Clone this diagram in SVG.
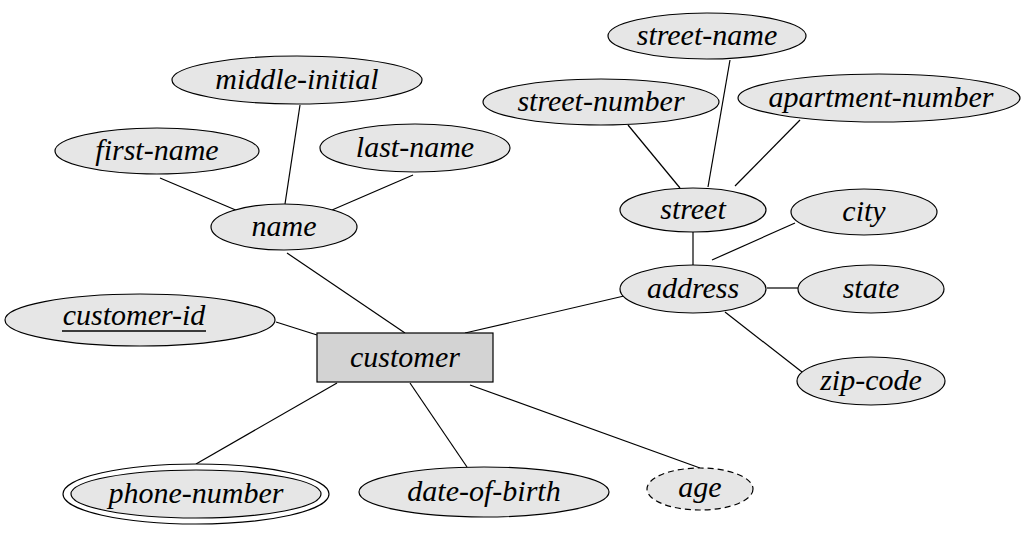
<svg xmlns="http://www.w3.org/2000/svg" width="1024" height="540" viewBox="0 0 1024 540">
<style>
.e{fill:#e6e6e6;stroke:#000;stroke-width:1.2}
.t{font-family:"Liberation Serif","DejaVu Serif",serif;font-style:italic;font-size:30px;text-anchor:middle;dominant-baseline:central;fill:#000}
.c line{stroke:#000;stroke-width:1.2}
</style>
<rect width="1024" height="540" fill="#fff"/>
<g class="c" id="connectors">
<line x1="160" y1="178" x2="238" y2="211"/>
<line x1="300" y1="105" x2="285" y2="204"/>
<line x1="413" y1="175" x2="332" y2="210"/>
<line x1="287" y1="253" x2="405" y2="333"/>
<line x1="276" y1="322" x2="317" y2="335"/>
<line x1="624" y1="296" x2="465" y2="333"/>
<line x1="337" y1="383" x2="196" y2="464"/>
<line x1="410" y1="383" x2="467" y2="467"/>
<line x1="470" y1="385" x2="700" y2="468"/>
<line x1="628" y1="125" x2="680" y2="188"/>
<line x1="730" y1="60" x2="708" y2="187"/>
<line x1="800" y1="120" x2="735" y2="186"/>
<line x1="693" y1="232" x2="693" y2="265"/>
<line x1="795" y1="223" x2="712" y2="260"/>
<line x1="767" y1="288" x2="799" y2="288"/>
<line x1="725" y1="312" x2="802" y2="372"/>
</g>
<g id="street-name"><ellipse class="e" cx="707" cy="36" rx="99" ry="23"/><text class="t" x="707" y="34">street-name</text></g>
<g id="middle-initial"><ellipse class="e" cx="297" cy="80" rx="125" ry="24"/><text class="t" x="297" y="78">middle-initial</text></g>
<g id="street-number"><ellipse class="e" cx="601" cy="102" rx="118" ry="23"/><text class="t" x="601" y="100">street-number</text></g>
<g id="apartment-number"><ellipse class="e" cx="879" cy="98" rx="141" ry="24"/><text class="t" x="881" y="96">apartment-number</text></g>
<g id="first-name"><ellipse class="e" cx="157" cy="151" rx="102" ry="23"/><text class="t" x="157" y="149">first-name</text></g>
<g id="last-name"><ellipse class="e" cx="415" cy="148" rx="95" ry="24"/><text class="t" x="415" y="146">last-name</text></g>
<g id="name"><ellipse class="e" cx="284" cy="227" rx="73" ry="23"/><text class="t" x="284" y="225">name</text></g>
<g id="street"><ellipse class="e" cx="693" cy="210" rx="73" ry="22"/><text class="t" x="693" y="208">street</text></g>
<g id="city"><ellipse class="e" cx="864" cy="212" rx="73" ry="23"/><text class="t" x="864" y="210">city</text></g>
<g id="address"><ellipse class="e" cx="693" cy="289" rx="73" ry="24"/><text class="t" x="693" y="287">address</text></g>
<g id="state"><ellipse class="e" cx="871" cy="289" rx="73" ry="24"/><text class="t" x="871" y="287">state</text></g>
<g id="zip-code"><ellipse class="e" cx="871" cy="381" rx="74" ry="24"/><text class="t" x="871" y="379">zip-code</text></g>
<g id="customer-id"><ellipse class="e" cx="140" cy="320" rx="135" ry="26"/><text class="t" x="134" y="314">customer-id</text><line x1="62" y1="331" x2="206" y2="331" stroke="#000" stroke-width="1.3"/></g>
<g id="customer"><rect x="317" y="333" width="176" height="49" fill="#d3d3d3" stroke="#000" stroke-width="1.2"/><text class="t" x="405" y="356">customer</text></g>
<g id="phone-number"><ellipse cx="196" cy="494" rx="133" ry="30" fill="#fff" stroke="#000" stroke-width="1.2"/><ellipse class="e" cx="196" cy="494" rx="125" ry="24"/><text class="t" x="196" y="492">phone-number</text></g>
<g id="date-of-birth"><ellipse class="e" cx="484" cy="492" rx="125" ry="25"/><text class="t" x="484" y="490">date-of-birth</text></g>
<g id="age"><ellipse class="e" cx="700" cy="489" rx="53" ry="21" stroke-dasharray="6,4"/><text class="t" x="700" y="486">age</text></g>
</svg>
